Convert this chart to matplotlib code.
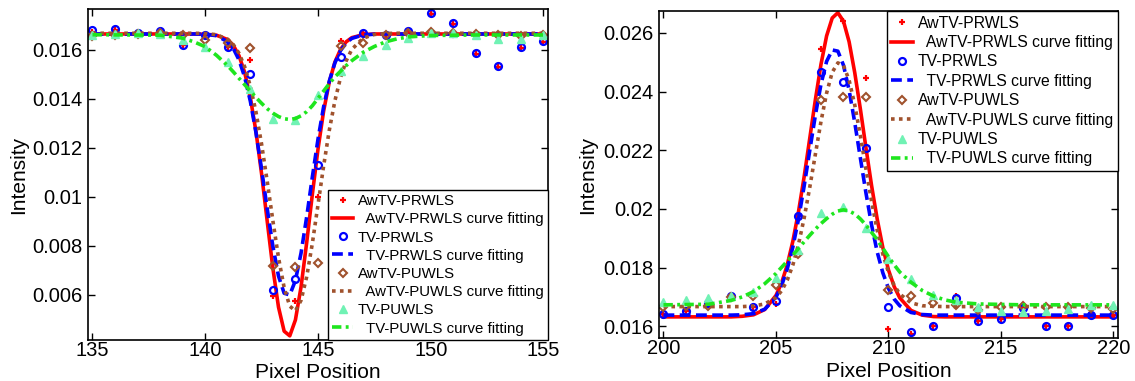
import matplotlib
matplotlib.use('Agg')
import matplotlib.pyplot as plt
from matplotlib.ticker import FuncFormatter

plt.rcParams['font.family'] = ['Liberation Sans', 'DejaVu Sans']

# ---- left panel: dip around pixel 144 ----
pix_left = list(range(135, 156))
awtv_prwls_left = [0.01675, 0.01680, 0.01668, 0.01675, 0.01618, 0.01660, 0.01610, 0.01560, 0.00595, 0.00577, 0.01000,
                   0.01635, 0.01668, 0.01660, 0.01675, 0.01748, 0.01705, 0.01583, 0.01532, 0.01607, 0.01632]
tv_prwls_left = [0.01680, 0.01684, 0.01670, 0.01677, 0.01621, 0.01662, 0.01612, 0.01500, 0.00620, 0.00665, 0.01130,
                 0.01573, 0.01670, 0.01660, 0.01677, 0.01750, 0.01708, 0.01587, 0.01536, 0.01610, 0.01635]
awtv_puwls_left = [0.01655, 0.01660, 0.01665, 0.01668, 0.01660, 0.01640, 0.01630, 0.01607, 0.00719, 0.00715, 0.00732,
                   0.01617, 0.01627, 0.01660, 0.01668, 0.01672, 0.01670, 0.01665, 0.01660, 0.01658, 0.01660]
tv_puwls_left = [0.01660, 0.01665, 0.01670, 0.01665, 0.01640, 0.01610, 0.01550, 0.01440, 0.01320, 0.01315, 0.01417,
                 0.01515, 0.01577, 0.01620, 0.01648, 0.01668, 0.01668, 0.01660, 0.01645, 0.01645, 0.01660]

fit_x_left = [135, 138, 139, 139.5, 140, 140.5, 141, 141.25, 141.5, 141.75, 142, 142.25, 142.5, 142.75, 143,
              143.25, 143.5, 143.75, 144, 144.25, 144.5, 144.75, 145, 145.25, 145.5, 145.75, 146, 146.25, 146.5,
              147, 147.5, 148, 148.5, 149, 150, 152, 155]
fit_awtv_prwls_left = [0.01665, 0.01665, 0.01665, 0.01665, 0.01664, 0.01660, 0.01642, 0.01618, 0.01576, 0.01508,
                       0.01406, 0.01267, 0.01094, 0.00900, 0.00709, 0.00550, 0.00452, 0.00433, 0.00498, 0.00633,
                       0.00814, 0.01010, 0.01194, 0.01350, 0.01468, 0.01550, 0.01602, 0.01633, 0.01650, 0.01662,
                       0.01665, 0.01665, 0.01665, 0.01665, 0.01665, 0.01665, 0.01665]
fit_tv_prwls_left = [0.01665, 0.01665, 0.01665, 0.01665, 0.01664, 0.01658, 0.01633, 0.01605, 0.01559, 0.01489,
                     0.01391, 0.01263, 0.01113, 0.00951, 0.00799, 0.00677, 0.00607, 0.00600, 0.00659, 0.00771,
                     0.00919, 0.01081, 0.01235, 0.01368, 0.01472, 0.01547, 0.01597, 0.01629, 0.01647, 0.01661,
                     0.01664, 0.01665, 0.01665, 0.01665, 0.01665, 0.01665, 0.01665]
fit_awtv_puwls_left = [0.01668, 0.01668, 0.01668, 0.01668, 0.01667, 0.01662, 0.01643, 0.01621, 0.01586, 0.01531,
                       0.01452, 0.01347, 0.01215, 0.01063, 0.00903, 0.00752, 0.00630, 0.00554, 0.00535, 0.00578,
                       0.00674, 0.00810, 0.00967, 0.01126, 0.01271, 0.01392, 0.01487, 0.01555, 0.01602, 0.01648,
                       0.01663, 0.01667, 0.01668, 0.01668, 0.01668, 0.01668, 0.01668]
fit_tv_puwls_left = [0.01662, 0.01660, 0.01648, 0.01633, 0.01613, 0.01578, 0.01535, 0.01510, 0.01484, 0.01458,
                     0.01432, 0.01406, 0.01382, 0.01360, 0.01342, 0.01328, 0.01319, 0.01316, 0.01320, 0.01331,
                     0.01348, 0.01372, 0.01402, 0.01432, 0.01462, 0.01490, 0.01513, 0.01536, 0.01556, 0.01590,
                     0.01614, 0.01633, 0.01645, 0.01653, 0.01659, 0.01661, 0.01661]

# ---- right panel: peak around pixel 208 ----
pix_right = list(range(200, 221))
awtv_prwls_right = [0.01643, 0.01652, 0.01679, 0.01703, 0.01667, 0.01675, 0.01975, 0.02546, 0.02640, 0.02445, 0.01590,
                    0.01575, 0.01602, 0.01703, 0.01617, 0.01626, 0.01662, 0.01602, 0.01602, 0.01645, 0.01640]
tv_prwls_right = [0.01643, 0.01652, 0.01679, 0.01703, 0.01667, 0.01685, 0.01975, 0.02466, 0.02432, 0.02208, 0.01667,
                  0.01581, 0.01602, 0.01697, 0.01617, 0.01626, 0.01662, 0.01602, 0.01602, 0.01640, 0.01640]
awtv_puwls_right = [0.01667, 0.01670, 0.01670, 0.01700, 0.01703, 0.01742, 0.01845, 0.02372, 0.02381, 0.02381, 0.01724,
                    0.01703, 0.01679, 0.01673, 0.01656, 0.01665, 0.01668, 0.01665, 0.01665, 0.01662, 0.01660]
tv_puwls_right = [0.01683, 0.01691, 0.01697, 0.01703, 0.01718, 0.01765, 0.01860, 0.01987, 0.02005, 0.01936, 0.01830,
                  0.01762, 0.01706, 0.01691, 0.01667, 0.01652, 0.01650, 0.01652, 0.01659, 0.01671, 0.01673]

fit_x_right = [200, 202, 203, 203.5, 204, 204.5, 205, 205.25, 205.5, 205.75, 206, 206.25, 206.5, 206.75, 207,
               207.25, 207.5, 207.75, 208, 208.25, 208.5, 208.75, 209, 209.25, 209.5, 209.75, 210, 210.25, 210.5,
               211, 211.5, 212, 212.5, 213, 214, 216, 220]
fit_awtv_prwls_right = [0.01632, 0.01632, 0.01632, 0.01634, 0.01639, 0.01657, 0.01705, 0.01748, 0.01809, 0.01890,
                        0.01990, 0.02109, 0.02240, 0.02372, 0.02493, 0.02590, 0.02651, 0.02669, 0.02640, 0.02570,
                        0.02465, 0.02341, 0.02208, 0.02079, 0.01965, 0.01868, 0.01792, 0.01736, 0.01697, 0.01654,
                        0.01638, 0.01633, 0.01632, 0.01632, 0.01632, 0.01632, 0.01632]
fit_tv_prwls_right = [0.01638, 0.01638, 0.01638, 0.01639, 0.01643, 0.01658, 0.01699, 0.01739, 0.01795, 0.01870,
                      0.01965, 0.02077, 0.02199, 0.02319, 0.02425, 0.02503, 0.02542, 0.02538, 0.02490, 0.02405,
                      0.02295, 0.02174, 0.02054, 0.01945, 0.01853, 0.01782, 0.01729, 0.01693, 0.01670, 0.01647,
                      0.01640, 0.01638, 0.01638, 0.01638, 0.01638, 0.01638, 0.01638]
fit_awtv_puwls_right = [0.01667, 0.01667, 0.01667, 0.01667, 0.01669, 0.01676, 0.01698, 0.01721, 0.01757, 0.01809,
                        0.01879, 0.01968, 0.02073, 0.02186, 0.02298, 0.02395, 0.02466, 0.02498, 0.02489, 0.02439,
                        0.02355, 0.02250, 0.02135, 0.02025, 0.01927, 0.01846, 0.01784, 0.01740, 0.01710, 0.01680,
                        0.01670, 0.01668, 0.01667, 0.01667, 0.01667, 0.01667, 0.01667]
fit_tv_puwls_right = [0.01673, 0.01675, 0.01688, 0.01700, 0.01718, 0.01745, 0.01780, 0.01801, 0.01822, 0.01843,
                      0.01865, 0.01888, 0.01910, 0.01931, 0.01950, 0.01967, 0.01982, 0.01993, 0.01997, 0.01993,
                      0.01983, 0.01966, 0.01945, 0.01920, 0.01895, 0.01866, 0.01837, 0.01810, 0.01785, 0.01750,
                      0.01722, 0.01703, 0.01690, 0.01682, 0.01676, 0.01673, 0.01673]

labels = ['AwTV-PRWLS', '  AwTV-PRWLS curve fitting', 'TV-PRWLS', '  TV-PRWLS curve fitting',
          'AwTV-PUWLS', '  AwTV-PUWLS curve fitting', 'TV-PUWLS', '  TV-PUWLS curve fitting']

RED = '#ff0000'
BLUE = '#0000ff'
BROWN = '#a0522d'
AQUA = '#70f2b4'
GREEN = '#1ee61e'


def draw_panel(ax, px, pts, fx, fits, legend_loc, legend_fs):
	# scatter + fit pairs, same order as the legend
	ax.plot(px, pts[0], linestyle='none', marker='+', ms=5, mew=1.6, color=RED, label=labels[0])
	ax.plot(fx, fits[0], '-', color=RED, lw=2.6, label=labels[1])
	ax.plot(px, pts[1], linestyle='none', marker='o', ms=5, mew=1.6, mfc='none', color=BLUE, label=labels[2])
	ax.plot(fx, fits[1], '--', color=BLUE, lw=2.6, dashes=(3.0, 1.5), label=labels[3])
	ax.plot(px, pts[2], linestyle='none', marker='D', ms=4.5, mew=1.5, mfc='none', color=BROWN, label=labels[4])
	ax.plot(fx, fits[2], ':', color=BROWN, lw=2.6, dashes=(1.0, 1.2), label=labels[5])
	ax.plot(px, pts[3], linestyle='none', marker='^', ms=6, color=AQUA, label=labels[6])
	ax.plot(fx, fits[3], '-.', color=GREEN, lw=2.6, dashes=(2.6, 1.2, 0.8, 1.2), label=labels[7])

	ax.tick_params(direction='in', top=True, right=True, length=5, width=1, labelsize=14.5)
	ax.tick_params(axis='x', pad=0.5)
	ax.tick_params(axis='y', pad=4)
	ax.yaxis.set_major_formatter(FuncFormatter(lambda v, p: '%g' % round(v, 6)))
	for s in ax.spines.values():
		s.set_linewidth(1.2)

	if legend_loc == 'lower right':
		anchor = (1, 0)
	else:
		anchor = (1, 1)
	leg = ax.legend(loc=legend_loc, bbox_to_anchor=anchor, borderaxespad=0, fontsize=legend_fs,
	                frameon=True, fancybox=False, framealpha=1, edgecolor='black',
	                handlelength=1.4, handletextpad=0.3, labelspacing=0.28, borderpad=0.3, numpoints=1)
	leg.get_frame().set_linewidth(1.0)

	ax.set_xlabel('Pixel Position', fontsize=15)
	ax.set_ylabel('Intensity', fontsize=15)


fig = plt.figure(figsize=(11.35, 3.81), dpi=100)

ax1 = fig.add_axes([0.0775, 0.1076, 0.4053, 0.8688])
draw_panel(ax1, pix_left, [awtv_prwls_left, tv_prwls_left, awtv_puwls_left, tv_puwls_left],
           fit_x_left, [fit_awtv_prwls_left, fit_tv_prwls_left, fit_awtv_puwls_left, fit_tv_puwls_left],
           'lower right', 10.8)
ax1.set_xlim(134.8, 155.2)
ax1.set_ylim(0.00416, 0.01767)
ax1.set_xticks([135, 140, 145, 150, 155])
ax1.set_yticks([0.006, 0.008, 0.01, 0.012, 0.014, 0.016])
ax1.yaxis.set_label_coords(-0.13, 0.5)
ax1.xaxis.set_label_coords(0.5, -0.068)

ax2 = fig.add_axes([0.5806, 0.1129, 0.4044, 0.8583])
draw_panel(ax2, pix_right, [awtv_prwls_right, tv_prwls_right, awtv_puwls_right, tv_puwls_right],
           fit_x_right, [fit_awtv_prwls_right, fit_tv_prwls_right, fit_awtv_puwls_right, fit_tv_puwls_right],
           'upper right', 11.3)
ax2.set_xlim(199.8, 220.2)
ax2.set_ylim(0.0156, 0.02675)
ax2.set_xticks([200, 205, 210, 215, 220])
ax2.set_yticks([0.016, 0.018, 0.02, 0.022, 0.024, 0.026])
ax2.yaxis.set_label_coords(-0.135, 0.5)
ax2.xaxis.set_label_coords(0.5, -0.074)

plt.savefig('out.png', dpi=100)
